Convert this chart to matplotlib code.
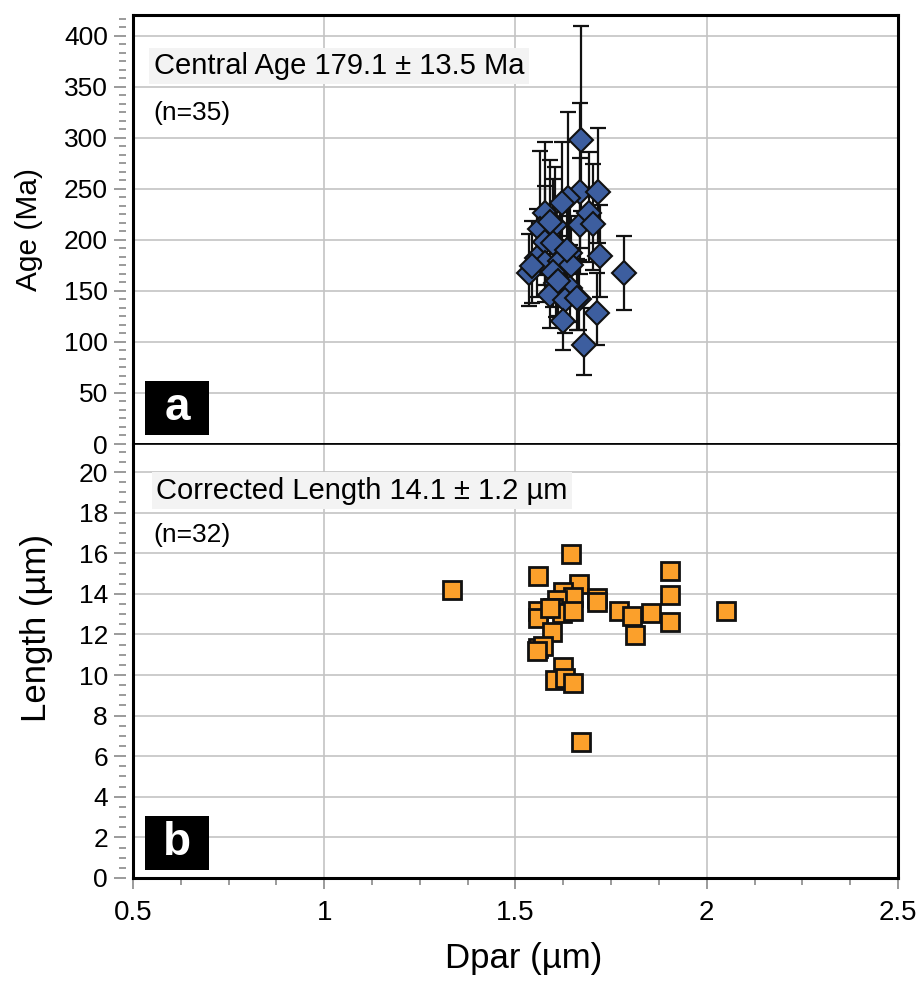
import matplotlib
matplotlib.use("Agg")
import matplotlib.pyplot as plt
from matplotlib.ticker import MultipleLocator
from matplotlib.patches import Rectangle

plt.rcParams['font.family'] = ['Liberation Sans', 'DejaVu Sans']

# panel a: Dpar vs fission-track age, asymmetric errors
age_dpar = [1.671, 1.669, 1.715, 1.638, 1.621, 1.577, 1.603, 1.564, 1.669, 1.693,
            1.702, 1.577, 1.599, 1.721, 1.643, 1.555, 1.577, 1.536, 1.616, 1.645,
            1.597, 1.607, 1.643, 1.590, 1.629, 1.666, 1.623, 1.714, 1.679, 1.783,
            1.634, 1.544, 1.660, 1.590, 1.612]
age = [298, 247, 247, 241, 236, 226, 215, 211, 215, 226,
       216, 198, 197, 184, 187, 182, 177, 168, 179, 175,
       169, 158, 153, 146, 141, 142, 121, 128, 97, 168,
       190, 174, 143, 218, 160]
age_lo = [70, 55, 50, 50, 48, 50, 45, 45, 48, 48,
          45, 42, 42, 40, 40, 38, 38, 33, 38, 37,
          35, 34, 33, 32, 32, 30, 29, 31, 29, 37,
          40, 36, 31, 46, 35]
age_hi = [112, 87, 63, 84, 60, 70, 57, 76, 65, 60,
          58, 55, 63, 50, 52, 48, 50, 38, 48, 48,
          45, 42, 42, 40, 40, 38, 36, 40, 36, 36,
          52, 45, 38, 60, 44]

# panel b: Dpar vs corrected track length
len_dpar = [1.644, 1.560, 1.904, 1.666, 1.904, 1.714, 1.714, 1.625, 1.651, 1.608,
            1.599, 1.621, 1.651, 1.560, 1.560, 1.595, 1.560, 1.573, 1.771, 1.805,
            1.854, 1.904, 1.812, 2.050, 1.623, 1.603, 1.629, 1.650, 1.671, 1.335,
            1.590, 1.556]
length = [15.95, 14.88, 15.14, 14.48, 13.94, 13.78, 13.60, 14.10, 13.86, 13.69,
          13.28, 13.04, 13.15, 13.17, 12.79, 12.13, 11.31, 11.43, 13.15, 12.91,
          13.04, 12.63, 11.97, 13.15, 10.41, 9.75, 9.84, 9.59, 6.68, 14.19,
          13.30, 11.20]

age_note = "Central Age 179.1 \u00b1 13.5 Ma"
len_note = "Corrected Length 14.1 \u00b1 1.2 \u00b5m"

blue = '#3d5e9f'
orange = '#fba02b'
gridc = '#c4c4c4'
tickc = '#8a8a8a'

fig = plt.figure(figsize=(9.21, 9.81), dpi=100)
ax1 = fig.add_axes([0.1444, 0.5474, 0.8306, 0.4373])
ax2 = fig.add_axes([0.1444, 0.1050, 0.8306, 0.4424], sharex=ax1)

ax1.errorbar(age_dpar, age, yerr=[age_lo, age_hi], fmt='none', ecolor='#111111',
             elinewidth=1.6, capsize=6, capthick=1.6, zorder=3)
ax1.plot(age_dpar, age, 'D', color=blue, markersize=12.5, markeredgecolor='#111111',
         markeredgewidth=1.5, linestyle='none', zorder=4)

ax2.plot(len_dpar, length, 's', color=orange, markersize=13, markeredgecolor='#111111',
         markeredgewidth=2, linestyle='none', zorder=4)

ax1.set_xlim(0.5, 2.5)
ax1.set_ylim(0, 420.5)
ax2.set_ylim(0, 21.38)

ax1.yaxis.set_major_locator(MultipleLocator(50))
ax1.yaxis.set_minor_locator(MultipleLocator(50 / 6))
ax2.yaxis.set_major_locator(MultipleLocator(2))
ax2.yaxis.set_minor_locator(MultipleLocator(0.5))
ax2.xaxis.set_minor_locator(MultipleLocator(0.125))
ax2.set_xticks([0.5, 1, 1.5, 2, 2.5])
ax2.set_xticklabels(['0.5', '1', '1.5', '2', '2.5'])

for ax in (ax1, ax2):
    ax.grid(True, which='major', color=gridc, linewidth=1.2, zorder=0)
    ax.set_axisbelow(True)
    ax.spines['left'].set_position(('outward', 5))
    ax.spines['left'].set_visible(False)
    ax.spines['right'].set_linewidth(2.2)
    ax.plot([0, 0], [0, 1], transform=ax.transAxes, color='black',
            linewidth=2.2, clip_on=False, zorder=6)
    ax.tick_params(axis='y', which='major', direction='out', length=9, width=1.2,
                   color=tickc, labelsize=19, pad=4)
    ax.tick_params(axis='y', which='minor', direction='out', length=5, width=1.2,
                   color=tickc)

ax1.spines['top'].set_linewidth(2.2)
ax1.spines['bottom'].set_linewidth(1.2)
ax2.spines['top'].set_linewidth(1.2)
ax2.spines['bottom'].set_linewidth(2.2)
ax1.tick_params(axis='x', which='both', bottom=False, labelbottom=False)
ax2.tick_params(axis='x', which='major', direction='out', length=8, width=1.2,
                color=tickc, labelsize=20, pad=8)
ax2.tick_params(axis='x', which='minor', direction='out', length=5, width=1.2,
                color=tickc)

ax1.set_ylabel('Age (Ma)', fontsize=21.5)
ax1.yaxis.set_label_coords(-0.117, 0.5)
ax2.set_ylabel('Length (\u00b5m)', fontsize=25)
ax2.yaxis.set_label_coords(-0.105, 0.576)
ax2.set_xlabel('Dpar (\u00b5m)', fontsize=25)
ax2.xaxis.set_label_coords(0.511, -0.148)

ax1.text(0.027, 0.881, age_note, transform=ax1.transAxes, fontsize=21, va='center',
         bbox=dict(boxstyle='square,pad=0.15', facecolor='#f3f3f3', edgecolor='none'),
         zorder=5)
ax1.text(0.027, 0.772, '(n=35)', transform=ax1.transAxes, fontsize=19, va='center')
ax2.text(0.030, 0.892, len_note, transform=ax2.transAxes, fontsize=21, va='center',
         bbox=dict(boxstyle='square,pad=0.15', facecolor='#f3f3f3', edgecolor='none'),
         zorder=5)
ax2.text(0.027, 0.790, '(n=32)', transform=ax2.transAxes, fontsize=19, va='center')

for ax, letter, y0, h in ((ax1, 'a', 0.021, 0.126), (ax2, 'b', 0.018, 0.124)):
    ax.add_patch(Rectangle((0.0157, y0), 0.0837, h, transform=ax.transAxes,
                           facecolor='black', edgecolor='none', zorder=5))
    ax.text(0.0157 + 0.0837 / 2, y0 + h / 2, letter, transform=ax.transAxes,
            color='white', fontsize=33, fontweight='bold', ha='center', va='center',
            zorder=6)

fig.savefig('out.png', dpi=100)
